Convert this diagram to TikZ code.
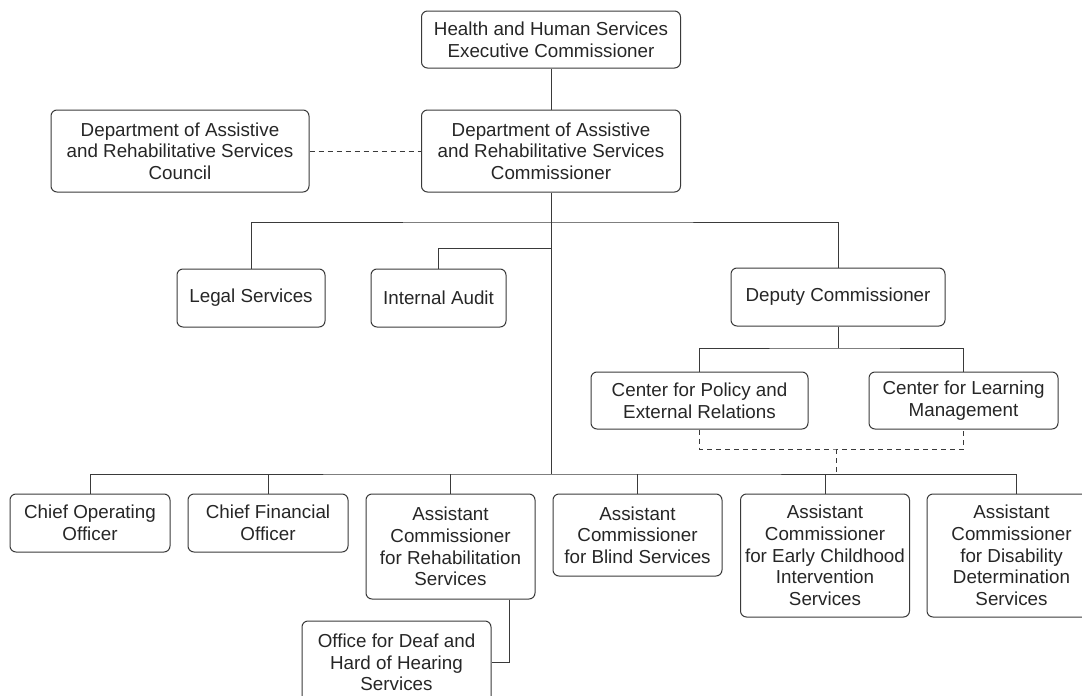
\documentclass[tikz,border=0pt]{standalone}
\usepackage{fontspec}
\setmainfont{Liberation Sans}
\definecolor{ink}{HTML}{262626}
\definecolor{rule}{HTML}{3A3A3A}
\begin{document}
\begin{tikzpicture}[x=1pt, y=-1pt, line width=1pt,
  org/.style={draw=rule, rounded corners=6pt, align=center, text=ink, inner sep=2pt,
    font=\fontsize{18.8}{21.7}\selectfont},
  link/.style={draw=rule, line width=1pt},
  loose/.style={link, dash pattern=on 5pt off 4pt}]
\useasboundingbox (0,0) rectangle (1082,696);
\clip (0,0) rectangle (1082,696);
\node[org, minimum width=259, minimum height=57](hhs) at (551,39.5){Health and Human Services\\Executive Commissioner};
\node[org, minimum width=259, minimum height=82](dars) at (551,151){Department of Assistive\\and Rehabilitative Services\\Commissioner};
\node[org, minimum width=258, minimum height=82](council) at (180,151){Department of Assistive\\and Rehabilitative Services\\Council};
\node[org, minimum width=148, minimum height=58](legal) at (251,298){Legal Services};
\node[org, minimum width=135, minimum height=58](audit) at (438.5,298){Internal Audit};
\node[org, minimum width=214, minimum height=58](deputy) at (838,297){Deputy Commissioner};
\node[org, minimum width=217, minimum height=57](policy) at (699.5,400.5){Center for Policy and\\External Relations};
\node[org, minimum width=189, minimum height=57](learning) at (963.5,400.5){Center for Learning\\Management};
\node[org, minimum width=160, minimum height=58](coo) at (90,523){Chief Operating\\Officer};
\node[org, minimum width=160, minimum height=58](cfo) at (268,523){Chief Financial\\Officer};
\node[org, minimum width=169, minimum height=105](rehab) at (450.5,546.5){Assistant\\Commissioner\\for Rehabilitation\\Services};
\node[org, minimum width=169, minimum height=82](blind) at (637.5,535){Assistant\\Commissioner\\for Blind Services};
\node[org, minimum width=169, minimum height=123](early) at (825,555.5){Assistant\\Commissioner\\for Early Childhood\\Intervention\\Services};
\node[org, minimum width=169, minimum height=123](disab) at (1011.5,555.5){Assistant\\Commissioner\\for Disability\\Determination\\Services};
\node[org, minimum width=189, minimum height=83](deaf) at (396.5,662.5){Office for Deaf and\\Hard of Hearing\\Services};

\coordinate (hub1) at (551,222);
\coordinate (hub2) at (551,248);
\coordinate (hub3) at (551,474);
\coordinate (dephub) at (838,348);
\coordinate (ctrhub) at (836,449);

\draw[link](hhs)--(dars);
\draw[loose](council)--(dars);
\draw[link](dars.south)--(hub3);
\draw[link](legal.north)|-(hub1)-|(deputy.north);
\draw[link](hub2)-|(audit.north);
\draw[link](deputy.south)--(dephub);
\draw[link](policy.north)|-(dephub)-|(learning.north);
\draw[loose](policy.south)|-(ctrhub)-|(learning.south);
\draw[loose](ctrhub)--(ctrhub|-hub3);
\draw[link](coo.north)|-(hub3)-|([xshift=4.5pt]disab.north);
\foreach \n in {cfo, rehab, blind, early}
  \draw[link](\n.north)--(\n.north|-hub3);
\draw[link]([xshift=58.5pt]rehab.south)|-(deaf.east);

\end{tikzpicture}
\end{document}
